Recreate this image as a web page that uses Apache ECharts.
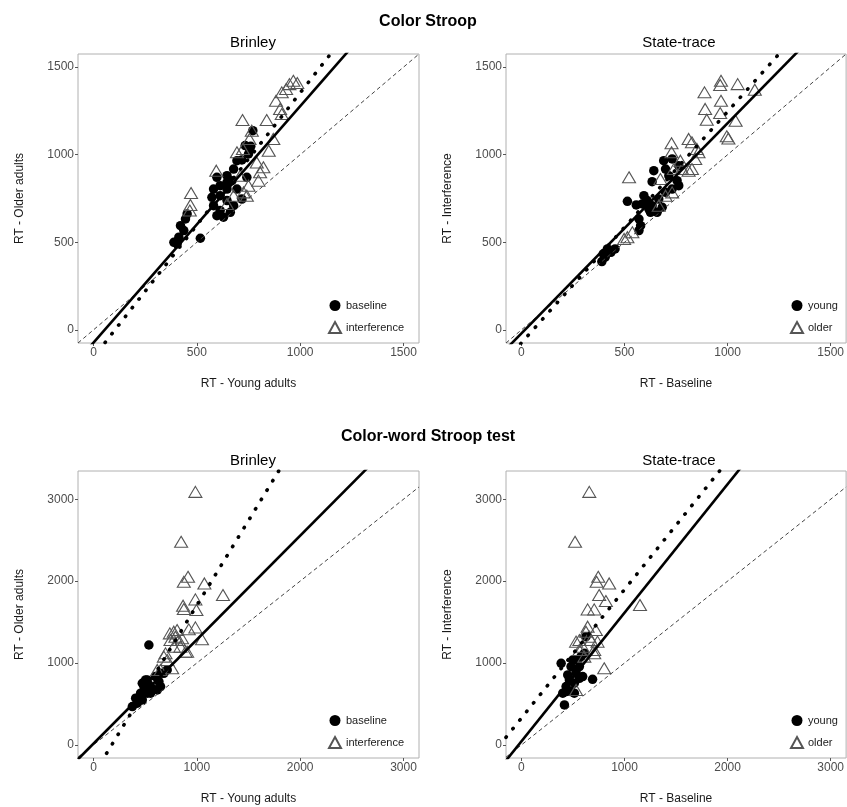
<!DOCTYPE html>
<html>
<head>
<meta charset="utf-8">
<title>Color Stroop / Color-word Stroop test</title>
<script src="https://cdn.jsdelivr.net/npm/echarts@6.0.0/dist/echarts.min.js"></script>
<style>
  html, body { margin: 0; padding: 0; background: #fff; }
  #chart { width: 847px; height: 807px; }
</style>
</head>
<body>
<div id="chart"></div>
<script>
'use strict';

// ---- Color Stroop (top row) ----
const csTicks = [0, 500, 1000, 1500];
const csRange = [-75, 1575];

const csBrinleyBaseline = [
    [771, 1137], [734, 1052], [761, 1048], [750, 1004], [694, 966], [718, 970],
    [646, 880], [670, 852], [742, 871], [613, 823], [581, 804], [646, 804],
    [694, 804], [718, 747], [573, 757], [613, 766], [646, 738], [581, 709],
    [597, 652], [629, 643], [662, 671], [613, 681], [678, 709], [389, 500],
    [413, 529], [437, 567], [421, 595], [445, 633], [453, 662], [405, 491],
    [517, 523], [755, 1033], [678, 918], [597, 871], [646, 842]
];
const csBrinleyInterference = [
    [967, 1422], [948, 1403], [986, 1409], [932, 1375], [911, 1356], [883, 1308],
    [903, 1261], [911, 1232], [721, 1198], [838, 1198], [755, 1090], [870, 1090],
    [848, 1023], [694, 1014], [723, 1033], [790, 956], [822, 928], [594, 909],
    [710, 880], [798, 852], [750, 823], [472, 781], [469, 713], [466, 681],
    [742, 766], [678, 766], [646, 719], [766, 1137], [806, 900], [726, 785]
];
const csStateYoung = [
    [390, 390], [406, 415], [434, 443], [454, 462], [417, 462], [397, 434],
    [514, 734], [557, 713], [594, 766], [634, 846], [642, 909], [690, 966],
    [731, 976], [699, 918], [715, 880], [763, 937], [755, 852], [731, 804],
    [763, 823], [610, 738], [634, 709], [626, 671], [570, 633], [578, 595],
    [570, 567], [658, 671], [683, 700], [618, 690], [586, 719], [666, 747],
    [699, 785]
];
const csStateOlder = [
    [968, 1422], [964, 1398], [1049, 1403], [888, 1356], [1132, 1371], [968, 1308],
    [891, 1261], [964, 1238], [899, 1200], [1039, 1194], [996, 1105], [1004, 1093],
    [811, 1090], [827, 1071], [728, 1065], [851, 1033], [859, 1014], [843, 976],
    [728, 1014], [522, 871], [771, 966], [779, 918], [811, 909], [827, 918],
    [674, 861], [739, 918], [498, 519], [514, 529], [538, 557], [699, 766],
    [666, 709], [731, 785]
];
// [slope, intercept]
const csBrinleySolid = [1.35, -73];
const csBrinleyDotted = [1.51, -157];
const csStateSolid = [1.2, -20];
const csStateDotted = [1.32, -74];

// ---- Color-word Stroop test (bottom row) ----
const cwTicks = [0, 1000, 2000, 3000];
const cwRangeX = [-150, 3150];
const cwRangeY = [-160, 3345];

const cwBrinleyBaseline = [
    [536, 1220], [376, 468], [408, 570], [456, 631], [488, 712], [504, 793],
    [536, 732], [568, 692], [600, 834], [649, 874], [681, 874], [649, 712],
    [617, 671], [472, 549], [520, 631], [424, 509], [552, 631], [713, 915],
    [633, 773], [472, 753], [520, 793], [440, 570]
];
const cwBrinleyInterference = [
    [986, 3090], [848, 2480], [915, 2053], [874, 1992], [1073, 1972], [1253, 1830],
    [867, 1700], [874, 1659], [986, 1777], [996, 1647], [922, 1411], [986, 1435],
    [1050, 1289], [739, 1362], [777, 1383], [809, 1403], [793, 1322], [825, 1281],
    [745, 1281], [841, 1200], [890, 1139], [681, 1078], [713, 1037], [617, 915],
    [649, 915], [761, 935], [906, 1139], [777, 1200], [857, 1301], [697, 1118]
];
const cwStateYoung = [
    [626, 1322], [417, 488], [690, 801], [385, 996], [497, 1037], [530, 915],
    [562, 956], [465, 793], [433, 712], [401, 631], [481, 651], [562, 813],
    [594, 834], [513, 753], [578, 1078], [610, 1118], [530, 874], [449, 854],
    [481, 956], [546, 1037], [433, 651], [513, 631]
];
const cwStateOlder = [
    [658, 3090], [520, 2480], [745, 2053], [729, 1992], [851, 1972], [1150, 1708],
    [754, 1830], [819, 1757], [642, 1655], [706, 1655], [642, 1444], [722, 1403],
    [626, 1383], [562, 1281], [530, 1261], [594, 1200], [674, 1281], [738, 1261],
    [706, 1159], [803, 935], [706, 1118], [530, 671], [658, 1322], [562, 1159],
    [610, 1078]
];
const cwBrinleySolid = [1.27, 15];
const cwBrinleyDotted = [2.07, -365];
const cwStateSolid = [1.57, 44];
const cwStateDotted = [1.57, 328];

const identity = [1, 0];

const panels = [
    {
        grid: { left: 78, top: 54, width: 341, height: 289 },
        xRange: csRange, yRange: csRange, ticks: csTicks,
        xName: 'RT - Young adults', yName: 'RT - Older adults',
        names: ['baseline', 'interference'],
        points: [csBrinleyBaseline, csBrinleyInterference],
        solid: csBrinleySolid, dotted: csBrinleyDotted,
        legendPos: { left: 323, top: 295 }
    },
    {
        grid: { left: 506, top: 54, width: 341, height: 289 },
        xRange: csRange, yRange: csRange, ticks: csTicks,
        xName: 'RT - Baseline', yName: 'RT - Interference',
        names: ['young', 'older'],
        points: [csStateYoung, csStateOlder],
        solid: csStateSolid, dotted: csStateDotted,
        legendPos: { left: 785, top: 295 }
    },
    {
        grid: { left: 78, top: 471, width: 341, height: 287 },
        xRange: cwRangeX, yRange: cwRangeY, ticks: cwTicks,
        xName: 'RT - Young adults', yName: 'RT - Older adults',
        names: ['baseline', 'interference'],
        points: [cwBrinleyBaseline, cwBrinleyInterference],
        solid: cwBrinleySolid, dotted: cwBrinleyDotted,
        legendPos: { left: 323, top: 710 }
    },
    {
        grid: { left: 506, top: 471, width: 341, height: 287 },
        xRange: cwRangeX, yRange: cwRangeY, ticks: cwTicks,
        xName: 'RT - Baseline', yName: 'RT - Interference',
        names: ['young', 'older'],
        points: [cwStateYoung, cwStateOlder],
        solid: cwStateSolid, dotted: cwStateDotted,
        legendPos: { left: 785, top: 710 }
    }
];

const font = 'Liberation Sans, Arial, sans-serif';

function lineData(coef, range) {
    return range.map(function (x) { return [x, coef[0] * x + coef[1]]; });
}

const grids = [];
const xAxes = [];
const yAxes = [];
const series = [];
const legends = [];

panels.forEach(function (p, i) {
    grids.push(Object.assign({ show: true, borderColor: '#b0b0b0', borderWidth: 1 }, p.grid));

    const axisCommon = {
        type: 'value',
        gridIndex: i,
        nameLocation: 'middle',
        nameTextStyle: { fontFamily: font, fontSize: 12, color: '#1a1a1a' },
        axisLine: { show: false, onZero: false },
        axisTick: { show: true, length: 3, customValues: p.ticks, lineStyle: { color: '#555', width: 1 } },
        axisLabel: {
            customValues: p.ticks, fontFamily: font, fontSize: 12, color: '#4d4d4d', margin: 4,
            formatter: function (v) { return String(v); }
        },
        splitLine: { show: false }
    };
    xAxes.push(Object.assign({}, axisCommon, {
        min: p.xRange[0], max: p.xRange[1], name: p.xName, nameGap: 35
    }));
    yAxes.push(Object.assign({}, axisCommon, {
        min: p.yRange[0], max: p.yRange[1], name: p.yName, nameGap: 52
    }));

    series.push({
        name: p.names[0], type: 'scatter', xAxisIndex: i, yAxisIndex: i,
        symbol: 'circle', symbolSize: 9.5,
        itemStyle: { color: '#000', opacity: 1 },
        data: p.points[0]
    });
    series.push({
        name: p.names[1], type: 'scatter', xAxisIndex: i, yAxisIndex: i,
        symbol: 'triangle', symbolSize: [13, 11],
        itemStyle: { color: 'rgba(0,0,0,0)', borderColor: '#555', borderWidth: 1.1, opacity: 1 },
        data: p.points[1]
    });

    const lines = [
        { coef: identity, style: { color: '#444', width: 1, type: [4, 3] } },
        { coef: p.solid, style: { color: '#000', width: 2.6, type: 'solid' } },
        { coef: p.dotted, style: { color: '#000', width: 3.6, type: [0.5, 10.5], cap: 'round' } }
    ];
    lines.forEach(function (l) {
        series.push({
            type: 'line', xAxisIndex: i, yAxisIndex: i, silent: true,
            showSymbol: false, symbol: 'none', clip: true, animation: false,
            lineStyle: l.style,
            data: lineData(l.coef, p.xRange)
        });
    });

    legends.push(Object.assign({
        orient: 'vertical',
        data: [{ name: p.names[0], icon: 'circle' }, { name: p.names[1], icon: 'triangle' }],
        itemWidth: 12, itemHeight: 11, itemGap: 10,
        selectedMode: false,
        textStyle: { fontFamily: font, fontSize: 11, color: '#1a1a1a' }
    }, p.legendPos));
});

function titleAt(text, cx, top, size, weight) {
    return {
        text: text, left: cx, top: top, textAlign: 'center',
        textStyle: { fontFamily: font, fontSize: size, fontWeight: weight, color: '#000' }
    };
}

const option = {
    backgroundColor: '#fff',
    animation: false,
    title: [
        titleAt('Color Stroop', 423, 9, 16, 'bold'),
        titleAt('Brinley', 248, 30, 15, 'normal'),
        titleAt('State-trace', 674, 30, 15, 'normal'),
        titleAt('Color-word Stroop test', 423, 424, 16, 'bold'),
        titleAt('Brinley', 248, 448, 15, 'normal'),
        titleAt('State-trace', 674, 448, 15, 'normal')
    ],
    legend: legends,
    grid: grids,
    xAxis: xAxes,
    yAxis: yAxes,
    series: series
};

const chartDom = document.getElementById('chart');
const myChart = echarts.init(chartDom);
myChart.setOption(option);
window.addEventListener('resize', function () {
    myChart.resize();
});
</script>
</body>
</html>
